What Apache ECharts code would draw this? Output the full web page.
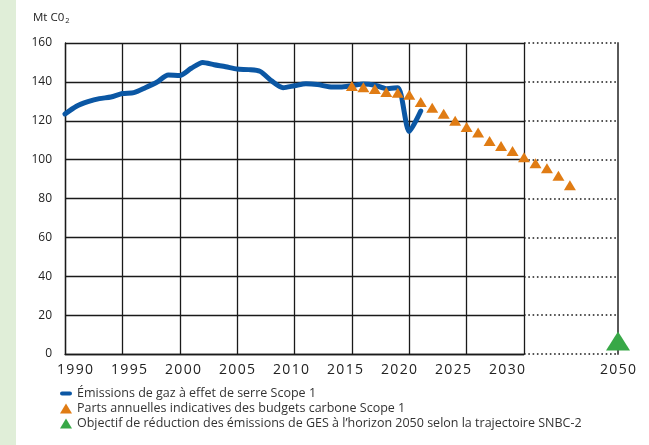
<!DOCTYPE html>
<html>
<head>
<meta charset="utf-8">
<script src="https://cdn.jsdelivr.net/npm/echarts@6/dist/echarts.min.js"></script>
<style>
  html, body { margin: 0; padding: 0; background: #fff; }
  #chart { width: 649px; height: 445px; }
</style>
</head>
<body>
<div id="chart"></div>
<script>
// emissions Scope 1 (Mt CO2)
const emissionYears = [1990, 1991, 1992, 1993, 1994, 1995, 1996, 1997, 1998, 1999,
  2000, 2001, 2002, 2003, 2004, 2005, 2006, 2007, 2008, 2009,
  2010, 2011, 2012, 2013, 2014, 2015, 2016, 2017, 2018, 2019, 2020, 2021];
const emissionValues = [123.5, 127.5, 129.8, 131.4, 132.2, 134, 134.5, 137, 139.8, 143.5,
  143.3, 147, 150, 148.8, 147.8, 146.6, 146.3, 145.4, 140.5, 137,
  138, 139, 138.6, 137.5, 137.3, 138, 138.9, 138.3, 136.5, 137, 114.5, 125];

// budgets carbone, parts annuelles
const budgetYears = [2015, 2016, 2017, 2018, 2019, 2020, 2021, 2022, 2023, 2024,
  2025, 2026, 2027, 2028, 2029, 2030, 2031, 2032, 2033, 2034];
const budgetValues = [137.9, 137.2, 136.3, 134.8, 134.4, 133.4, 129.7, 126.7, 123.6, 120,
  116.8, 113.9, 109.6, 107, 104.4, 101.2, 98.1, 95.5, 91.7, 86.8];

// objectif 2050
const targetYears = [2050];
const targetValues = [6.7];

const yearTicks = [1990, 1995, 2000, 2005, 2010, 2015, 2020, 2025, 2030];
const valueTicks = [0, 20, 40, 60, 80, 100, 120, 140, 160];

const seriesNames = [
  "Émissions de gaz à effet de serre Scope 1",
  "Parts annuelles indicatives des budgets carbone Scope 1",
  "Objectif de réduction des émissions de GES à l’horizon 2050 selon la trajectoire SNBC-2",
];

// the x axis is broken after 2035: 2035 -> 2050 is squeezed
const BREAK_AT = 2035;
const SQUEEZE = 3.19 / 15;
function axisYear(y) {
  return y <= BREAK_AT ? y : BREAK_AT + (y - BREAK_AT) * SQUEEZE;
}
const X_END = axisYear(2050);

const FONT = "'Open Sans', sans-serif";
const spaced = (s) => String(s).split("").join("\u200a");

const chart = echarts.init(document.getElementById("chart"), null, { renderer: "canvas" });

const gridTop = 43, gridBottom = 91;
const solidLine = { color: "#1a1a1a", width: 1.3 };
const dottedLine = { color: "#1a1a1a", width: 1.6, type: [1.6, 2.7] };
const pillIcon = "path://M2,0 L10,0 A2,2 0 0 1 10,4 L2,4 A2,2 0 0 1 2,0 Z";

const option = {
  backgroundColor: "#fff",
  animation: false,
  graphic: [
    { type: "rect", left: 0, top: 0, shape: { width: 16, height: 445 }, style: { fill: "#e0eed8" }, z: -10 },
    {
      type: "text", left: 33, top: 11,
      style: {
        text: "Mt C0{s|2}",
        font: "11.5px " + FONT,
        fill: "#222",
        lineHeight: 14,
        rich: { s: { fontSize: 7.5, fontFamily: "Open Sans", lineHeight: 8, verticalAlign: "bottom", padding: [0, 0, 0, 1] } },
      },
    },
  ],
  grid: [
    { left: 65, right: 125, top: gridTop, bottom: gridBottom },
    { left: 524, right: 31, top: gridTop, bottom: gridBottom },
    { left: 65, right: 31, top: gridTop, bottom: gridBottom },
    { left: 75, right: 142, top: gridTop, bottom: gridBottom },
  ],
  xAxis: [
    {
      gridIndex: 0, type: "value", min: yearTicks[0], max: yearTicks[yearTicks.length - 1], interval: 5,
      axisLine: { lineStyle: solidLine }, axisTick: { show: false }, axisLabel: { show: false },
      splitLine: { show: true, lineStyle: solidLine },
    },
    {
      gridIndex: 1, type: "value", min: 2030, max: 2050,
      axisLine: { show: false }, axisTick: { show: false }, splitLine: { show: false },
      axisLabel: {
        customValues: [2050], formatter: (v) => spaced(v), margin: 9,
        fontFamily: FONT, fontSize: 14, color: "#222",
      },
    },
    { gridIndex: 2, type: "value", min: yearTicks[0], max: X_END, show: false },
    {
      gridIndex: 3, type: "value", min: yearTicks[0], max: yearTicks[yearTicks.length - 1], interval: 5,
      axisLine: { show: false }, axisTick: { show: false }, splitLine: { show: false },
      axisLabel: { formatter: (v) => spaced(v), margin: 9, fontFamily: FONT, fontSize: 14, color: "#222" },
    },
  ],
  yAxis: [
    {
      gridIndex: 0, type: "value", min: valueTicks[0], max: valueTicks[valueTicks.length - 1], interval: 20,
      axisLine: { show: true, lineStyle: solidLine }, axisTick: { show: false },
      axisLabel: { margin: 13, fontFamily: FONT, fontSize: 12, color: "#222", padding: [0, 0, 5, 0] },
      splitLine: { show: true, lineStyle: solidLine },
    },
    {
      gridIndex: 1, type: "value", position: "right", min: 0, max: 160, interval: 20,
      axisLine: { show: true, lineStyle: { color: "#5a5a5a", width: 2 } }, axisTick: { show: false },
      axisLabel: { show: false },
      splitLine: { show: true, lineStyle: dottedLine },
    },
    { gridIndex: 2, type: "value", min: 0, max: 160, show: false },
    { gridIndex: 3, type: "value", min: 0, max: 160, show: false },
  ],
  legend: {
    orient: "vertical",
    left: 60,
    top: 387,
    itemWidth: 12,
    itemHeight: 10,
    itemGap: 2,
    padding: 0,
    symbolKeepAspect: true,
    data: [
      { name: seriesNames[0], icon: pillIcon },
      { name: seriesNames[1], icon: "triangle" },
      { name: seriesNames[2], icon: "triangle" },
    ],
    textStyle: { fontFamily: FONT, fontSize: 12.5, color: "#333" },
  },
  series: [
    {
      name: seriesNames[0],
      type: "line",
      xAxisIndex: 2, yAxisIndex: 2,
      data: emissionYears.map((y, i) => [axisYear(y), emissionValues[i]]),
      symbol: "none",
      smooth: 0.25,
      lineStyle: { color: "#0b57a4", width: 5, cap: "round", join: "round" },
      itemStyle: { color: "#0b57a4" },
      z: 3,
    },
    {
      name: seriesNames[1],
      type: "scatter",
      xAxisIndex: 2, yAxisIndex: 2,
      data: budgetYears.map((y, i) => [axisYear(y), budgetValues[i]]),
      symbol: "triangle",
      symbolSize: [12, 10],
      itemStyle: { color: "#e07c14", opacity: 1 },
      z: 4,
    },
    {
      name: seriesNames[2],
      type: "scatter",
      xAxisIndex: 2, yAxisIndex: 2,
      data: targetYears.map((y, i) => [axisYear(y), targetValues[i]]),
      symbol: "triangle",
      symbolSize: [24, 19],
      itemStyle: { color: "#38a847", opacity: 1 },
      z: 4,
    },
  ],
};

chart.setOption(option);
</script>
</body>
</html>
